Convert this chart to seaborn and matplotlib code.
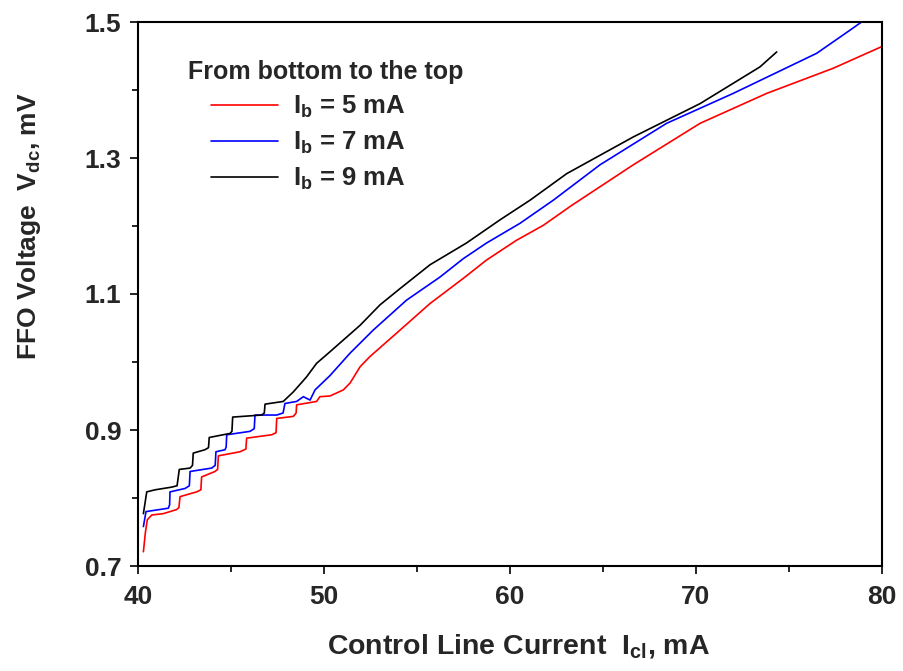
import matplotlib
matplotlib.use("Agg")
import matplotlib.pyplot as plt
from matplotlib.ticker import MultipleLocator
from matplotlib.lines import Line2D
import seaborn as sns
import pandas as pd

# ---- data ----
x_5 = [40.29, 40.40, 40.50, 40.74, 41.36, 42.08, 42.20, 42.26, 43.15, 43.38, 43.42,
       44.14, 44.28, 44.32, 45.48, 45.80, 45.84, 47.19, 47.42, 47.46, 48.35, 48.50,
       48.53, 49.60, 49.78, 50.32, 51.04, 51.40, 51.94, 52.47, 54.09, 55.70, 57.49,
       58.74, 60.35, 61.79, 63.30, 66.63, 70.22, 73.80, 77.38, 80.00]
y_5 = [0.721, 0.750, 0.768, 0.775, 0.777, 0.783, 0.786, 0.802, 0.809, 0.812, 0.831,
       0.839, 0.842, 0.862, 0.868, 0.872, 0.888, 0.893, 0.896, 0.917, 0.920, 0.925,
       0.937, 0.942, 0.949, 0.950, 0.959, 0.969, 0.993, 1.008, 1.047, 1.086, 1.123,
       1.150, 1.179, 1.201, 1.230, 1.290, 1.351, 1.395, 1.432, 1.464]

x_7 = [40.29, 40.43, 40.91, 41.63, 41.70, 41.72, 42.53, 42.76, 42.80, 43.96, 44.15,
       44.19, 44.68, 44.74, 44.77, 46.02, 46.25, 46.29, 47.46, 47.80, 47.90, 48.53,
       48.89, 49.25, 49.52, 50.32, 51.40, 52.65, 54.44, 56.24, 57.49, 58.74, 60.54,
       62.33, 64.84, 68.42, 72.00, 76.49, 78.28, 78.90]
y_7 = [0.758, 0.780, 0.782, 0.785, 0.790, 0.809, 0.814, 0.818, 0.839, 0.844, 0.848,
       0.868, 0.871, 0.875, 0.893, 0.898, 0.902, 0.922, 0.922, 0.925, 0.939, 0.942,
       0.949, 0.944, 0.959, 0.980, 1.013, 1.047, 1.091, 1.125, 1.152, 1.175, 1.204,
       1.238, 1.290, 1.351, 1.395, 1.454, 1.488, 1.500]

x_9 = [40.29, 40.47, 40.91, 41.81, 42.10, 42.22, 42.80, 42.93, 42.97, 43.60, 43.79,
       43.83, 44.95, 45.05, 45.09, 46.65, 46.79, 46.83, 47.81, 48.35, 49.06, 49.60,
       50.32, 51.94, 53.01, 54.09, 55.70, 57.66, 59.46, 61.08, 63.05, 66.63, 70.22,
       73.44, 74.34]
y_9 = [0.777, 0.809, 0.812, 0.816, 0.818, 0.842, 0.844, 0.848, 0.866, 0.871, 0.874,
       0.889, 0.895, 0.898, 0.919, 0.922, 0.925, 0.938, 0.942, 0.956, 0.978, 0.998,
       1.015, 1.054, 1.084, 1.108, 1.143, 1.175, 1.209, 1.238, 1.277, 1.331, 1.380,
       1.434, 1.456]

series_labels = ["I$_\\mathbf{b}$ = 5 mA", "I$_\\mathbf{b}$ = 7 mA", "I$_\\mathbf{b}$ = 9 mA"]
series_colors = ["#ff0000", "#0000ff", "#000000"]
legend_title = "From bottom to the top"
x_label = "Control Line Current  I$_\\mathbf{cl}$, mA"
y_label = "FFO Voltage  V$_\\mathbf{dc}$, mV"
x_ticks = [40, 50, 60, 70, 80]
y_ticks = [0.7, 0.9, 1.1, 1.3, 1.5]

# ---- style ----
sns.set_theme(style="ticks")
plt.rcParams["font.family"] = ["Liberation Sans", "DejaVu Sans"]
plt.rcParams["font.weight"] = "bold"
plt.rcParams["mathtext.fontset"] = "custom"
plt.rcParams["mathtext.rm"] = "Liberation Sans:bold"
plt.rcParams["mathtext.bf"] = "Liberation Sans:bold"
plt.rcParams["mathtext.default"] = "bf"

fig = plt.figure(figsize=(9.04, 6.71), dpi=100)
ax = fig.add_axes([138/904, 1-566/671, 744/904, 544/671])

frames = []
for xs, ys, lab in zip([x_5, x_7, x_9], [y_5, y_7, y_9], series_labels):
    frames.append(pd.DataFrame({"x": xs, "y": ys, "series": lab}))
df = pd.concat(frames, ignore_index=True)

sns.lineplot(data=df, x="x", y="y", hue="series", units="series", estimator=None,
             sort=False, palette=dict(zip(series_labels, series_colors)),
             linewidth=1.2, ax=ax, legend=False)

ax.set_xlim(40, 80)
ax.set_ylim(0.7, 1.5)
ax.set_xticks(x_ticks)
ax.set_xticklabels([str(v) for v in x_ticks])
ax.set_yticks(y_ticks)
ax.set_yticklabels([f"{v:.1f}" for v in y_ticks])
ax.xaxis.set_minor_locator(MultipleLocator(5))
ax.yaxis.set_minor_locator(MultipleLocator(0.1))
ax.tick_params(which="major", direction="out", length=6, width=1.2, color="black",
               labelsize=19)
ax.tick_params(which="minor", direction="out", length=4.5, width=1.2, color="black")
ax.tick_params(axis="x", which="major", pad=8)
ax.tick_params(axis="y", which="major", pad=6)
for lab in ax.get_xticklabels() + ax.get_yticklabels():
    lab.set_fontweight("bold")
for s in ax.spines.values():
    s.set_visible(True)
    s.set_color("black")
    s.set_linewidth(1.5)

ax.set_xlabel(x_label, fontsize=20.5, fontweight="bold")
ax.xaxis.set_label_coords((519-138)/744, (566-632)/544)
ax.set_ylabel(y_label, fontsize=19, fontweight="bold")
ax.yaxis.set_label_coords((43-138)/744, (566-226)/544)

# legend
ax.text((188-138)/744, (566-72)/544, legend_title, transform=ax.transAxes,
        fontsize=18, fontweight="bold", va="center", ha="left")
handles = [Line2D([], [], color=c, lw=1.2) for c in series_colors]
ax.legend(handles, series_labels, loc="upper left",
          bbox_to_anchor=((211-138)/744, (566-94)/544), frameon=False,
          borderpad=0, borderaxespad=0, handlelength=2.6, handletextpad=0.6,
          labelspacing=0.38, prop={"size": 18.5, "weight": "bold"})

fig.savefig("out.png", dpi=100)
